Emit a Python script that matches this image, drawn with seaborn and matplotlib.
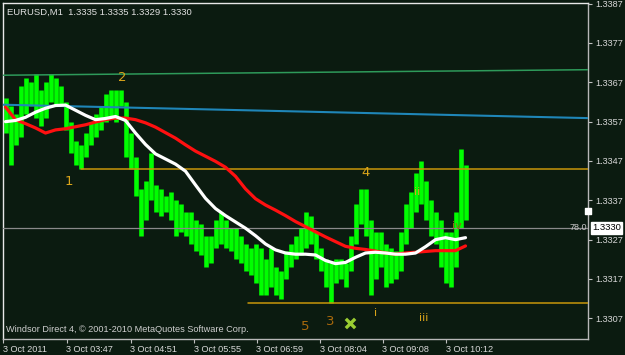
import numpy as np
import pandas as pd
import matplotlib
matplotlib.use("Agg")
import matplotlib.pyplot as plt
import seaborn as sns
from matplotlib.transforms import blended_transform_factory

# ---------------- data ----------------
chart_title = "EURUSD,M1  1.3335 1.3335 1.3329 1.3330"
footer_text = "Windsor Direct 4, \u00a9 2001-2010 MetaQuotes Software Corp."
time_labels = ["3 Oct 2011", "3 Oct 03:47", "3 Oct 04:51", "3 Oct 05:55",
               "3 Oct 06:59", "3 Oct 08:04", "3 Oct 09:08", "3 Oct 10:12"]
time_label_bars = [0, 63, 127, 190, 253, 316, 379, 442]
price_ticks = [1.3307, 1.3317, 1.3327, 1.3337, 1.3347, 1.3357, 1.3367, 1.3377, 1.3387]

# high / low of each 5-bar block (M1 bars grouped by five)
bar_high = [1.3363, 1.3361, 1.3359, 1.3366, 1.3368, 1.3367, 1.3369, 1.3365, 1.3367, 1.3369,
            1.3368, 1.3366, 1.3362, 1.3357, 1.3352, 1.3351, 1.3354, 1.3357, 1.3359, 1.3361,
            1.3364, 1.3365, 1.3365, 1.3365, 1.3362, 1.3354, 1.3348, 1.3340, 1.3342, 1.3349,
            1.3341, 1.3340, 1.3338, 1.3339, 1.3337, 1.3336, 1.3334, 1.3334, 1.3332, 1.3331,
            1.3328, 1.3328, 1.3332, 1.3334, 1.3332, 1.3330, 1.3330, 1.3328, 1.3326, 1.3325,
            1.3326, 1.3325, 1.3322, 1.3325, 1.3320, 1.3319, 1.3324, 1.3326, 1.3328, 1.3330,
            1.3334, 1.3333, 1.3329, 1.3325, 1.3322, 1.3321, 1.3322, 1.3322, 1.3321, 1.3328,
            1.3336, 1.3340, 1.3340, 1.3332, 1.3329, 1.3329, 1.3326, 1.3325, 1.3324, 1.3329,
            1.3336, 1.3339, 1.3344, 1.3347, 1.3342, 1.3337, 1.3334, 1.3332, 1.3329, 1.3329,
            1.3334, 1.3350, 1.3346]
bar_low = [1.3354, 1.3346, 1.3351, 1.3353, 1.3359, 1.3361, 1.3358, 1.3356, 1.3358, 1.3362,
           1.3361, 1.3361, 1.3355, 1.3349, 1.3346, 1.3345, 1.3348, 1.3351, 1.3353, 1.3355,
           1.3357, 1.3358, 1.3357, 1.3361, 1.3348, 1.3345, 1.3338, 1.3328, 1.3332, 1.3337,
           1.3334, 1.3333, 1.3334, 1.3332, 1.3328, 1.3329, 1.3328, 1.3326, 1.3324, 1.3323,
           1.3320, 1.3321, 1.3325, 1.3326, 1.3325, 1.3324, 1.3322, 1.3321, 1.3319, 1.3318,
           1.3316, 1.3313, 1.3313, 1.3315, 1.3313, 1.3312, 1.3317, 1.3320, 1.3322, 1.3323,
           1.3325, 1.3326, 1.3322, 1.3319, 1.3315, 1.3311, 1.3316, 1.3317, 1.3315, 1.3319,
           1.3326, 1.3331, 1.3328, 1.3313, 1.3317, 1.3320, 1.3315, 1.3316, 1.3317, 1.3319,
           1.3326, 1.3330, 1.3334, 1.3336, 1.3332, 1.3328, 1.3326, 1.3320, 1.3316, 1.3315,
           1.3320, 1.3330, 1.3332]

ma_bars = list(range(2, 463, 10))
ma_fast = [1.33570, 1.33573, 1.33581, 1.33594, 1.33604, 1.33611, 1.33612, 1.33599, 1.33586, 1.33575,
           1.33578, 1.33583, 1.33573, 1.33541, 1.33512, 1.33488, 1.33475, 1.33462, 1.33444, 1.33409,
           1.33375, 1.33349, 1.33331, 1.33315, 1.33299, 1.33280, 1.33259, 1.33244, 1.33236, 1.33233,
           1.33233, 1.33231, 1.33217, 1.33209, 1.33212, 1.33225, 1.33236, 1.33238, 1.33236, 1.33233,
           1.33233, 1.33236, 1.33252, 1.33270, 1.33275, 1.33270, 1.33275]
ma_slow = [1.33607, 1.33575, 1.33565, 1.33554, 1.33541, 1.33549, 1.33552, 1.33557, 1.33562, 1.33569,
           1.33575, 1.33579, 1.33579, 1.33575, 1.33567, 1.33556, 1.33542, 1.33528, 1.33511, 1.33495,
           1.33482, 1.33469, 1.33454, 1.33431, 1.33399, 1.33374, 1.33358, 1.33345, 1.33331, 1.33316,
           1.33303, 1.33290, 1.33277, 1.33265, 1.33253, 1.33248, 1.33245, 1.33241, 1.33236, 1.33233,
           1.33236, 1.33238, 1.33240, 1.33242, 1.33242, 1.33242, 1.33254]

channel_top = [1.33688, 1.33702]      # green line, start / end
channel_mid = [1.33613, 1.33579]      # blue line, start / end
level_upper = 1.3345                  # orange line from wave 1
level_lower = 1.3311                  # orange line at the low
level_fib = 1.3330                    # gray 78.0 level / bid
fib_label = "78.0"
last_price = "1.3330"

wave_labels = ["1", "2", "3", "4", "5", "i", "ii", "iii", "iv"]
wave_bars = [65, 119, 327, 362, 302, 372, 414, 420, 453]
wave_prices = [1.33417, 1.33683, 1.33062, 1.33441, 1.33050, 1.33083, 1.33391, 1.33070, 1.33304]
wave_colors = ["#d9a41a", "#d9a41a", "#a8690c", "#d9a41a", "#a8690c",
               "#d9a41a", "#d9a41a", "#d9a41a", "#8c6a14"]
cross_bar = 346
cross_price = 1.33059

# ---------------- style ----------------
BG = "#0b1b10"
sns.set_theme(style="dark", rc={"axes.facecolor": BG, "figure.facecolor": BG,
                                "axes.grid": False})
plt.rcParams["font.family"] = ["Liberation Sans", "DejaVu Sans"]

fig = plt.figure(figsize=(6.25, 3.55), dpi=100, facecolor=BG)
ax = fig.add_axes([3 / 625, 16 / 355, 585 / 625, 336 / 355])
ax.set_facecolor(BG)

xmin, xmax = -0.5, 584.5
ax.set_xlim(xmin, xmax)
ax.set_ylim(1.330174, 1.338716)

# price bars
bar_pos = np.arange(len(bar_high)) * 5 + 2
ax.vlines(bar_pos, bar_low, bar_high, color="#00ff00", lw=3.3, zorder=2)

# channel / level lines
ax.plot([0, 584], channel_top, color="#2e9a5a", lw=1.1, zorder=3)
ax.plot([0, 584], channel_mid, color="#1f86b8", lw=1.5, zorder=3)
ax.plot([77, 584], [level_upper, level_upper], color="#c8960a", lw=1.1, zorder=3)
ax.plot([244, 584], [level_lower, level_lower], color="#c8960a", lw=1.1, zorder=3)
ax.axhline(level_fib, color="#8a8a8a", lw=0.9, zorder=3)

# moving averages
df = pd.DataFrame({"bar": ma_bars, "fast": ma_fast, "slow": ma_slow})
sns.lineplot(data=df, x="bar", y="slow", ax=ax, color="#ff1010", lw=2.3, zorder=4)
sns.lineplot(data=df, x="bar", y="fast", ax=ax, color="#ffffff", lw=2.3, zorder=5)

# wave labels
for lab, b, p, c in zip(wave_labels, wave_bars, wave_prices, wave_colors):
    fs = 9.5 if lab.isdigit() else 8
    ax.text(b, p, lab, color=c, fontsize=fs, ha="center", va="center", zorder=6,
            family=["DejaVu Sans"])
ax.scatter([cross_bar], [cross_price], marker="x", s=45, color="#9acd32",
           linewidths=2.4, zorder=6)

# fib label and price box
ax.text(xmax - 1, level_fib, fib_label, color="#c8c8c8", fontsize=6.5,
        ha="right", va="center", zorder=6)
tr = blended_transform_factory(ax.transAxes, ax.transData)
ax.text(1.007, level_fib, last_price, transform=tr, color="black", fontsize=6.8,
        ha="left", va="center", zorder=7,
        bbox=dict(boxstyle="square,pad=0.15", fc="white", ec="white"))
ax.scatter([1.0], [1.33344], transform=tr, marker="s", s=14, color="white",
           zorder=7, clip_on=False)

# axes
ax.set_xlabel("")
ax.set_ylabel("")
ax.set_xticks(time_label_bars)
ax.set_xticklabels(time_labels, ha="left")
ax.yaxis.tick_right()
ax.set_yticks(price_ticks)
ax.set_yticklabels([f"{p:.4f}" for p in price_ticks])
ax.tick_params(axis="both", direction="out", length=3, width=0.8, color="#c0c0c0",
               labelcolor="#d8d8d8", labelsize=6.6)
ax.tick_params(axis="x", pad=1, bottom=True)
ax.tick_params(axis="y", pad=2, right=True, left=False)
for side in ["top", "left"]:
    ax.spines[side].set_color("#e8e8e8")
    ax.spines[side].set_linewidth(1.0)
for side in ["right", "bottom"]:
    ax.spines[side].set_color("#b8b8b8")
    ax.spines[side].set_linewidth(1.0)
for s in ax.spines.values():
    s.set_visible(True)

fig.text(7 / 625, 1 - 12 / 355, chart_title, color="#e0e0e0", fontsize=6.8,
         ha="left", va="center")
fig.text(6 / 625, 1 - 330 / 355, footer_text, color="#d0d0d0", fontsize=6.6,
         ha="left", va="center")

fig.savefig("out.png", dpi=100, facecolor=BG)
